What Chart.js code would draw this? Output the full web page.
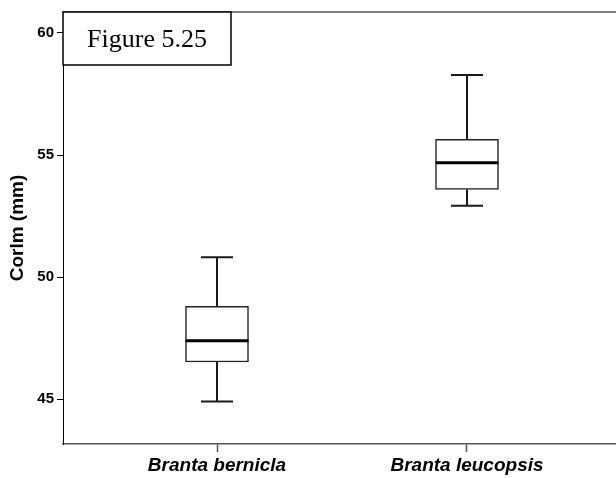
<!DOCTYPE html>
<html>
<head>
<meta charset="utf-8">
<script src="https://cdn.jsdelivr.net/npm/chart.js@4/dist/chart.umd.min.js"></script>
<style>
  html, body { margin: 0; padding: 0; background: #fff; }
  canvas { display: block; }
</style>
</head>
<body>
<canvas id="boxChart" width="616" height="478"></canvas>
<script>
const SPECIES      = ["Branta bernicla", "Branta leucopsis"];
const WHISKER_LOW  = [44.90, 52.92];
const Q1           = [46.52, 53.59];
const MEDIAN       = [47.39, 54.68];
const Q3           = [48.80, 55.64];
const WHISKER_HIGH = [50.81, 58.28];
const Y_TICKS      = [45, 50, 55, 60];
const Y_TITLE      = "Corlm (mm)";
const FIG_LABEL    = "Figure 5.25";

const SANS = "'Liberation Sans', Arial, sans-serif";
const CAP_WIDTH = 32;

// whiskers, medians, top frame line and the figure label box
const boxExtras = {
    id: 'boxExtras',
    afterDatasetsDraw(chart) {
        const ctx = chart.ctx;
        const xs = chart.scales.x;
        const ys = chart.scales.y;
        ctx.save();
        SPECIES.forEach((name, i) => {
            const cx = xs.getPixelForValue(i + 1);
            const half = CAP_WIDTH / 2;

            ctx.strokeStyle = '#1a1a1a';
            ctx.lineWidth = 2;
            ctx.beginPath();
            ctx.moveTo(cx, ys.getPixelForValue(Q3[i]));
            ctx.lineTo(cx, ys.getPixelForValue(WHISKER_HIGH[i]));
            ctx.moveTo(cx, ys.getPixelForValue(Q1[i]));
            ctx.lineTo(cx, ys.getPixelForValue(WHISKER_LOW[i]));
            ctx.moveTo(cx - half, ys.getPixelForValue(WHISKER_HIGH[i]));
            ctx.lineTo(cx + half, ys.getPixelForValue(WHISKER_HIGH[i]));
            ctx.moveTo(cx - half, ys.getPixelForValue(WHISKER_LOW[i]));
            ctx.lineTo(cx + half, ys.getPixelForValue(WHISKER_LOW[i]));
            ctx.stroke();

            const bar = chart.getDatasetMeta(0).data[i];
            ctx.strokeStyle = '#000';
            ctx.lineWidth = 3;
            ctx.beginPath();
            ctx.moveTo(bar.x - bar.width / 2, ys.getPixelForValue(MEDIAN[i]));
            ctx.lineTo(bar.x + bar.width / 2, ys.getPixelForValue(MEDIAN[i]));
            ctx.stroke();
        });

        const area = chart.chartArea;
        ctx.strokeStyle = '#808080';
        ctx.lineWidth = 2;
        ctx.beginPath();
        ctx.moveTo(area.left, area.top);
        ctx.lineTo(area.right, area.top);
        ctx.stroke();

        // label box in the top left corner
        ctx.font = "26px 'Liberation Serif', 'Times New Roman', serif";
        const boxW = 168, boxH = 53;
        ctx.fillStyle = '#fff';
        ctx.fillRect(area.left, area.top, boxW, boxH);
        ctx.strokeStyle = '#000';
        ctx.lineWidth = 1.5;
        ctx.strokeRect(area.left, area.top, boxW, boxH);
        ctx.fillStyle = '#000';
        ctx.textAlign = 'center';
        ctx.textBaseline = 'alphabetic';
        ctx.fillText(FIG_LABEL, area.left + boxW / 2, area.top + 35);
        ctx.restore();
    }
};

const boxData = SPECIES.map((_, i) => ({ x: i + 1, y: [Q1[i], Q3[i]] }));

new Chart(document.getElementById('boxChart'), {
    type: 'bar',
    data: {
        datasets: [{
            data: boxData,
            backgroundColor: '#fff',
            borderColor: '#222',
            borderWidth: 1.5,
            borderSkipped: false,
            barThickness: 63
        }]
    },
    options: {
        responsive: false,
        animation: false,
        devicePixelRatio: 1,
        layout: { padding: { top: 12, left: 0, right: 0, bottom: 0 } },
        plugins: {
            legend: { display: false },
            tooltip: { enabled: false }
        },
        scales: {
            x: {
                type: 'linear',
                min: 0.384,
                max: 2.596,
                offset: false,
                afterBuildTicks: scale => { scale.ticks = SPECIES.map((_, i) => ({ value: i + 1 })); },
                afterFit: scale => { scale.height = 34; },
                grid: { offset: false, drawOnChartArea: false, tickLength: 8, tickColor: '#555', tickWidth: 1.5 },
                border: { color: '#555', width: 1.5 },
                ticks: {
                    color: '#000',
                    padding: 2,
                    maxRotation: 0,
                    font: { family: SANS, size: 19, weight: 'bold', style: 'italic' },
                    callback: v => SPECIES[v - 1] || ''
                }
            },
            y: {
                min: 43.16,
                max: 60.86,
                afterBuildTicks: scale => { scale.ticks = Y_TICKS.map(v => ({ value: v })); },
                afterFit: scale => { scale.width = 63; },
                grid: { drawOnChartArea: false, tickLength: 6, tickColor: '#000' },
                border: { color: '#000', width: 1 },
                ticks: {
                    color: '#000',
                    padding: 3,
                    font: { family: SANS, size: 15, weight: 'bold' }
                },
                title: {
                    display: true,
                    text: Y_TITLE,
                    color: '#000',
                    padding: { top: 6, bottom: 0 },
                    font: { family: SANS, size: 19, weight: 'bold' }
                }
            }
        }
    },
    plugins: [boxExtras]
});
</script>
</body>
</html>
